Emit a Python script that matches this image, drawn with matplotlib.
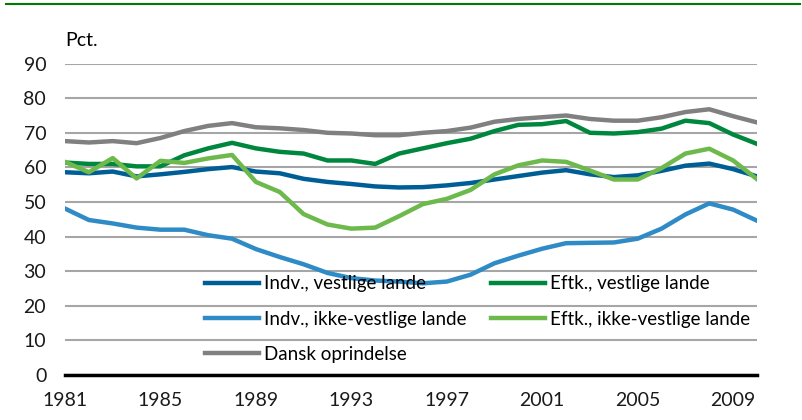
import matplotlib
matplotlib.use("Agg")
import matplotlib.pyplot as plt
from matplotlib.lines import Line2D

years = list(range(1981, 2011))

dansk = [67.6, 67.2, 67.6, 67.0, 68.5, 70.5, 72.0, 72.8, 71.6, 71.3,
         70.8, 70.0, 69.8, 69.3, 69.3, 70.0, 70.5, 71.5, 73.2, 74.0,
         74.5, 75.0, 74.0, 73.5, 73.5, 74.5, 76.0, 76.8, 74.8, 73.0]
eftk_vest = [61.4, 61.0, 61.0, 60.3, 60.3, 63.5, 65.5, 67.1, 65.5, 64.5,
             64.0, 62.0, 62.0, 61.0, 64.0, 65.5, 67.0, 68.3, 70.5, 72.3,
             72.5, 73.4, 70.0, 69.8, 70.2, 71.2, 73.5, 72.8, 69.5, 66.8]
indv_vest = [58.6, 58.3, 58.8, 57.4, 58.0, 58.7, 59.5, 60.1, 58.8, 58.3,
             56.7, 55.8, 55.2, 54.5, 54.2, 54.3, 54.8, 55.5, 56.5, 57.5,
             58.5, 59.2, 58.0, 57.2, 57.7, 59.0, 60.5, 61.1, 59.5, 57.4]
eftk_ikke = [61.6, 58.6, 62.7, 56.8, 61.9, 61.3, 62.6, 63.6, 55.8, 52.9,
             46.5, 43.5, 42.3, 42.6, 45.9, 49.4, 50.9, 53.5, 58.0, 60.6,
             62.0, 61.6, 59.1, 56.5, 56.5, 59.8, 64.0, 65.4, 62.0, 56.6]
indv_ikke = [48.1, 44.8, 43.8, 42.6, 42.0, 42.0, 40.4, 39.4, 36.4, 34.1,
             32.0, 29.5, 28.0, 27.3, 27.0, 26.5, 27.0, 29.0, 32.3, 34.5,
             36.5, 38.1, 38.2, 38.3, 39.4, 42.3, 46.4, 49.6, 47.8, 44.6]

yticks = [0, 10, 20, 30, 40, 50, 60, 70, 80, 90]
xticks = [1981, 1985, 1989, 1993, 1997, 2001, 2005, 2009]

plt.rcParams['font.family'] = ['Lato', 'DejaVu Sans']

fig = plt.figure(figsize=(8.03, 4.2), dpi=100)
ax = fig.add_axes([65 / 803, 1 - 375 / 420, 692 / 803, (375 - 63.6) / 420])

lw = 3.2
ax.plot(years, indv_vest, color='#005e96', lw=lw, label='Indv., vestlige lande', zorder=3)
ax.plot(years, indv_ikke, color='#2e8bc6', lw=lw, label='Indv., ikke-vestlige lande', zorder=3)
ax.plot(years, dansk, color='#808080', lw=lw, label='Dansk oprindelse', zorder=3)
ax.plot(years, eftk_vest, color='#00873e', lw=lw, label='Eftk., vestlige lande', zorder=3)
ax.plot(years, eftk_ikke, color='#6db94c', lw=lw, label='Eftk., ikke-vestlige lande', zorder=3)

ax.set_xlim(1981, 2010)
ax.set_ylim(0, 90)
ax.set_yticks(yticks)
ax.set_xticks(xticks)
ax.yaxis.grid(True, color='#a6a6a6', lw=1.5)
ax.set_axisbelow(True)
for s in ['top', 'right', 'left']:
    ax.spines[s].set_visible(False)
ax.spines['bottom'].set_linewidth(2.5)
ax.spines['bottom'].set_color('black')
ax.spines['bottom'].set_zorder(4)
ax.tick_params(axis='both', length=0, labelsize=14, colors='#1a1a1a')
ax.tick_params(axis='y', pad=13.5)
ax.tick_params(axis='x', pad=12.5)

ax.text(0, 1.055, 'Pct.', transform=ax.transAxes, fontsize=14, va='baseline', ha='left')

ax.legend(ncol=2, loc='upper left', bbox_to_anchor=(0.2025, 0.32), frameon=False,
          fontsize=13.5, handlelength=2.88, handletextpad=0.27, columnspacing=1.28,
          labelspacing=0.97, borderpad=0, borderaxespad=0)

fig.add_artist(Line2D([6 / 803, 800 / 803], [1 - 4 / 420, 1 - 4 / 420],
                      color='#007a00', lw=1.5))

fig.savefig('out.png', dpi=100)
